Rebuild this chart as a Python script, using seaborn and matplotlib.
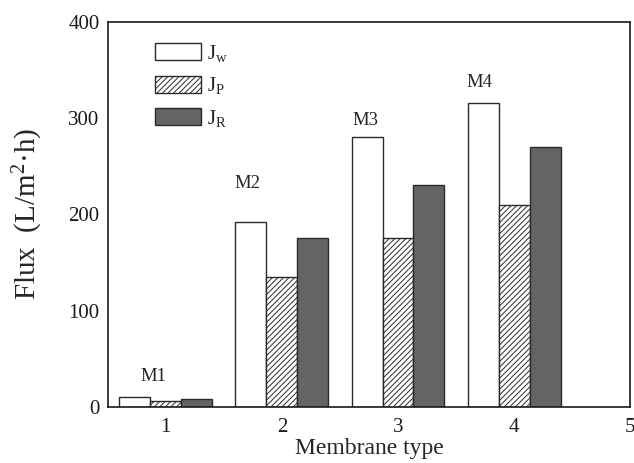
import matplotlib
matplotlib.use("Agg")
import matplotlib.pyplot as plt
from matplotlib.ticker import MultipleLocator
import numpy as np
import pandas as pd
import seaborn as sns

# Flux data for each membrane (L/m^2 h)
membranes = [1, 2, 3, 4]
membrane_names = ["M1", "M2", "M3", "M4"]
flux_w = [10, 192, 280, 316]
flux_p = [6, 135, 175, 210]
flux_r = [8, 175, 230, 270]
series_labels = [r"J$_\mathregular{w}$", r"J$_\mathregular{P}$", r"J$_\mathregular{R}$"]

df = pd.DataFrame({
    "membrane": membranes * 3,
    "flux": flux_w + flux_p + flux_r,
    "series": [series_labels[0]] * 4 + [series_labels[1]] * 4 + [series_labels[2]] * 4,
})

sns.set_theme(style="white")
plt.rcParams["font.family"] = ["Liberation Serif", "DejaVu Serif"]
plt.rcParams["mathtext.fontset"] = "custom"
plt.rcParams["mathtext.rm"] = "Liberation Serif"
plt.rcParams["mathtext.it"] = "Liberation Serif:italic"
plt.rcParams["hatch.color"] = "#555555"
plt.rcParams["hatch.linewidth"] = 0.7

fig = plt.figure(figsize=(6.34, 4.63), dpi=100)
ax = fig.add_axes([0.170, 0.1216, 0.824, 0.831])

palette = {series_labels[0]: "#ffffff", series_labels[1]: "#ffffff", series_labels[2]: "#646464"}
sns.barplot(data=df, x="membrane", y="flux", hue="series", palette=palette,
            native_scale=True, width=0.8, edgecolor="#2a2a2a", linewidth=1.0,
            saturation=1, errorbar=None, legend=False, ax=ax)

# hatch the J_P bars
for patch in ax.containers[1].patches:
    patch.set_hatch("//////")

ax.legend(handles=ax.containers, labels=series_labels, loc="upper left",
          bbox_to_anchor=(0.075, 0.967), frameon=False, fontsize=15,
          handlelength=2.2, handleheight=0.85, labelspacing=0.55,
          handletextpad=0.3, borderaxespad=0)

# membrane labels above the J_w bars
label_dx = [-0.11, -0.30, -0.28, -0.30]
label_y = [31, 232, 298, 337]
for m, name, dx, ly in zip(membranes, membrane_names, label_dx, label_y):
    ax.text(m + dx, ly, name, ha="center", va="center", fontsize=13.5)

ax.set_xlim(0.5, 5)
ax.set_ylim(0, 400)
ax.set_xticks([1, 2, 3, 4, 5])
ax.set_xticklabels(["1", "2", "3", "4", "5"])
ax.xaxis.set_minor_locator(MultipleLocator(0.5))
ax.set_yticks([0, 100, 200, 300, 400])
ax.yaxis.set_minor_locator(MultipleLocator(50))
ax.tick_params(axis="both", which="both", direction="in", top=False, right=False,
               colors="#1a1a1a", labelsize=15)
ax.tick_params(axis="both", which="major", length=5, width=1.0)
ax.tick_params(axis="both", which="minor", length=3, width=1.0)
ax.tick_params(axis="x", which="major", pad=8)
ax.tick_params(axis="y", which="major", pad=6)

for side in ["left", "right", "top", "bottom"]:
    ax.spines[side].set_visible(True)
    ax.spines[side].set_color("#1a1a1a")
    ax.spines[side].set_linewidth(1.2)

ax.set_xlabel("Membrane type", fontsize=17, labelpad=1)
ax.set_ylabel(r"Flux  (L/m$^\mathregular{2}$·h)", fontsize=21)
ax.yaxis.set_label_coords(-0.12, 0.5)

fig.savefig("out.png", dpi=100)
